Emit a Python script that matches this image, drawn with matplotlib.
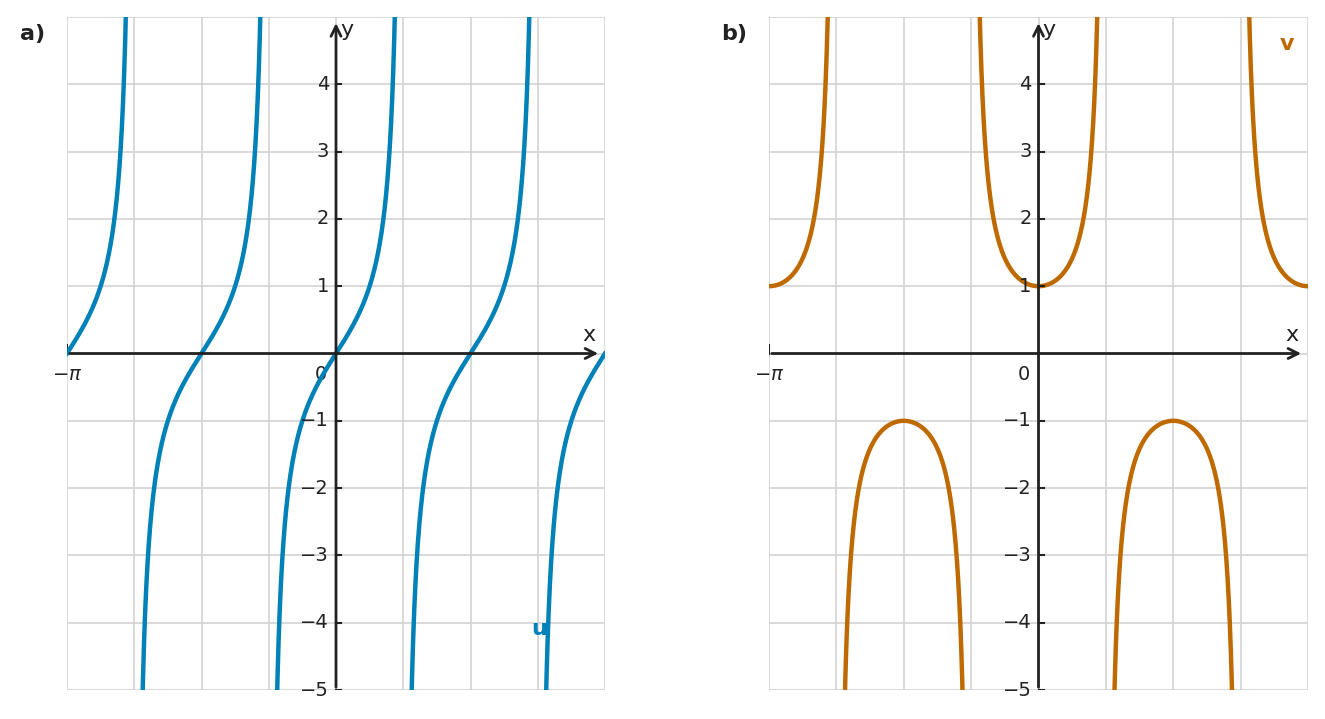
import numpy as np
import matplotlib
matplotlib.use("Agg")
import matplotlib.pyplot as plt

x_min, x_max = -np.pi, np.pi
y_ticks = [-5, -4, -3, -2, -1, 1, 2, 3, 4]
grid_x = [k*np.pi/4 for k in range(-4, 5)]
grid_y = list(range(-5, 6))
colors = {"u": "#0081b8", "v": "#bf6a00"}

x = np.linspace(x_min, x_max, 20001)
u = np.tan(2*x)
v = 1/np.cos(2*x)
u[np.abs(u) > 8] = np.nan
v[np.abs(v) > 8] = np.nan

fig = plt.figure(figsize=(13.25, 7.19), dpi=100)
W, H = 1325, 719
def mkax(l, r):
    return fig.add_axes([l/W, 1-690/H, (r-l)/W, (690-17)/H])
axa = mkax(67, 605)
axb = mkax(769, 1308)

def setup(ax, tag):
    ax.set_xlim(x_min, x_max); ax.set_ylim(-5, 5)
    for s in ax.spines.values(): s.set_visible(False)
    ax.set_xticks([]); ax.set_yticks([])
    for g in grid_x:
        ax.axvline(g, color="#d3d3d3", lw=1.2, zorder=0)
    for g in grid_y:
        ax.axhline(g, color="#d3d3d3", lw=1.2, zorder=0)
    ax.annotate("", xy=(x_max*0.985, 0), xytext=(x_min, 0),
                arrowprops=dict(arrowstyle="->", color="#222222", lw=2, mutation_scale=18), zorder=5)
    ax.annotate("", xy=(0, 4.95), xytext=(0, -5),
                arrowprops=dict(arrowstyle="->", color="#222222", lw=2, mutation_scale=18), zorder=5)
    for t in y_ticks:
        ax.plot([0, 0.06], [t, t], color="#222222", lw=1.5, zorder=5)
        ax.text(-0.08, t, "−%d" % -t if t < 0 else str(t), ha="right", va="center",
                fontsize=14, color="#222222", zorder=6)
    ax.plot([x_min, x_min], [0, 0.12], color="#222222", lw=1.5)
    ax.text(x_min, -0.17, "−$\\pi$", ha="center", va="top", fontsize=14, color="#222222")
    ax.text(-0.1, -0.17, "0", ha="right", va="top", fontsize=14, color="#222222")
    ax.text(x_max*0.94, 0.12, "x", ha="center", va="bottom", fontsize=16, color="#222222")
    ax.text(0.05, 4.8, "y", ha="left", va="center", fontsize=16, color="#222222")
    ax.text(-0.04, 0.99, tag, transform=ax.transAxes, fontsize=16, fontweight="bold",
            color="#222222", ha="right", va="top")
    ax.set_clip_on(False)

setup(axa, "a)")
setup(axb, "b)")
axa.plot(x, u, color=colors["u"], lw=3.2, zorder=4)
axb.plot(x, v, color=colors["v"], lw=3.2, zorder=4)
axa.text(2.37, -4.1, "u", color=colors["u"], fontsize=16, fontweight="bold", ha="center", va="center")
axb.text(2.89, 4.6, "v", color=colors["v"], fontsize=16, fontweight="bold", ha="center", va="center")
fig.savefig("out.png", dpi=100)
